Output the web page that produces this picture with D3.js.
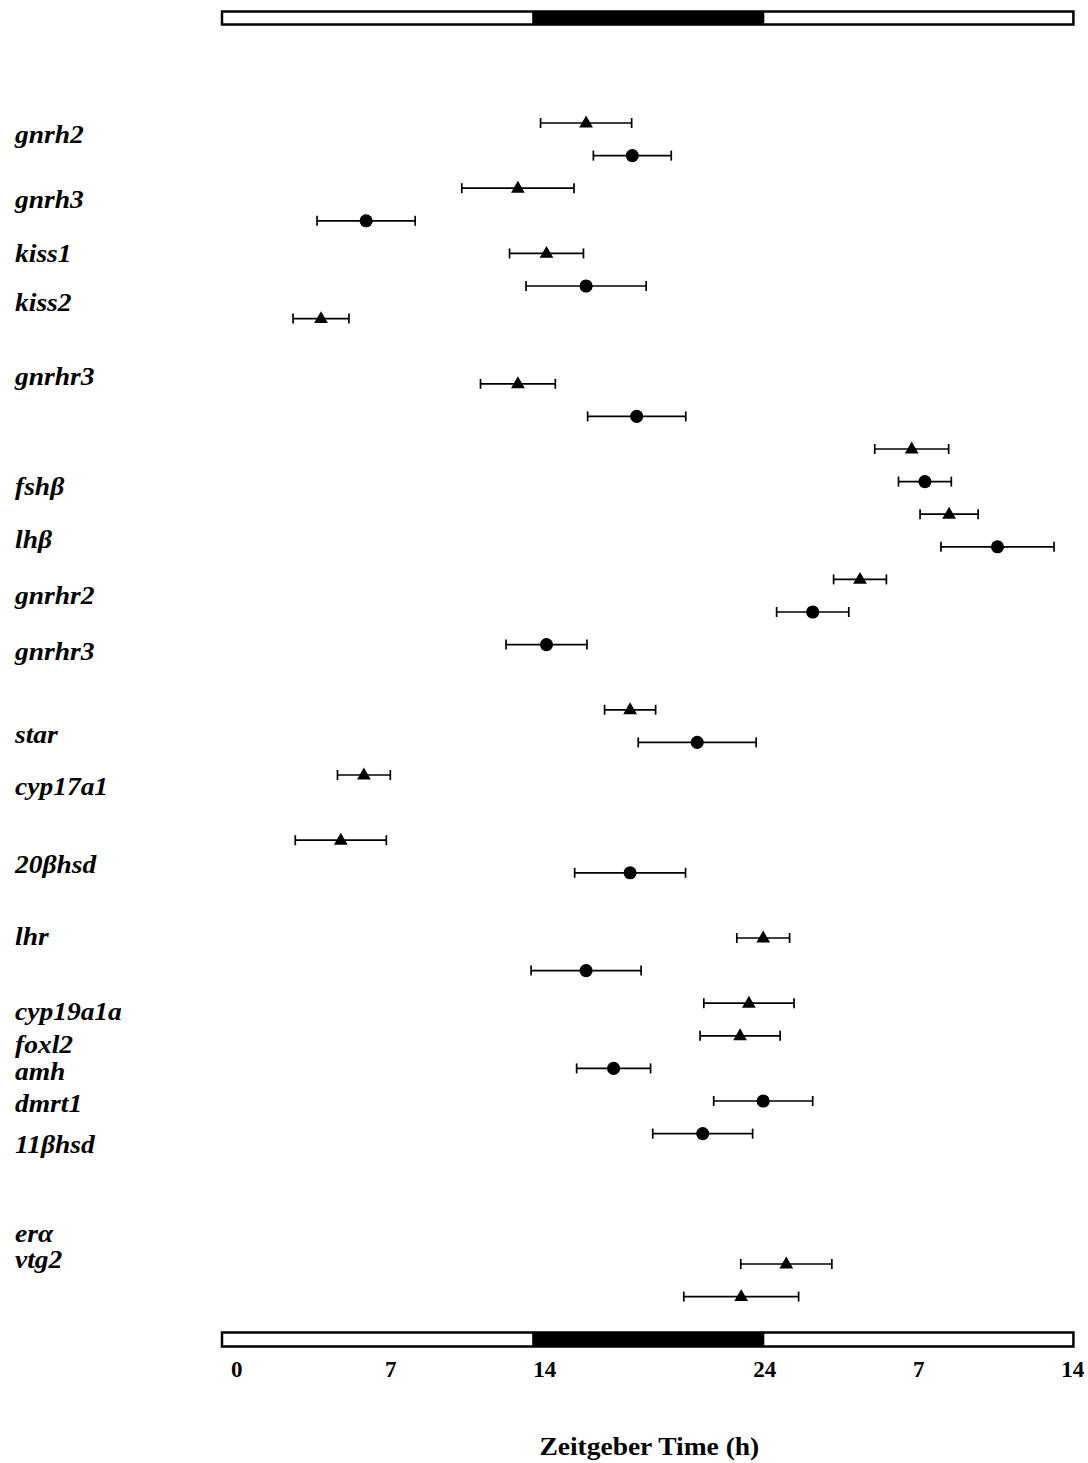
<!DOCTYPE html>
<html>
<head>
<meta charset="utf-8">
<script src="https://cdn.jsdelivr.net/npm/d3@7/dist/d3.min.js"></script>
<style>
  html, body { margin: 0; padding: 0; background: #fff; }
  svg { display: block; }
  text { font-family: "Liberation Serif", "Times New Roman", serif; fill: #000; }
</style>
</head>
<body>
<svg id="chart" width="1088" height="1463"></svg>
<script>
// Gene labels shown down the left side
const geneLabels = ["gnrh2", "gnrh3", "kiss1", "kiss2", "gnrhr3", "fshβ", "lhβ", "gnrhr2", "gnrhr3",
  "star", "cyp17a1", "20βhsd", "lhr", "cyp19a1a", "foxl2", "amh", "dmrt1", "11βhsd", "erα", "vtg2"];

// Acrophase (Zeitgeber hours) and its error, one entry per plotted point
const acrophase = [15.9, 18.0, 12.8, 5.9, 14.1, 15.9, 3.85,
  12.8, 18.2, 30.7, 31.3, 32.4, 34.6, 28.35, 26.2, 14.1,
  17.9, 20.95, 5.8, 4.75, 17.9,
  23.95, 15.9, 23.3, 22.9, 17.15, 23.95, 21.2,
  25.0, 22.95];
const acrophaseErr = [2.07, 1.77, 2.55, 2.23, 1.68, 2.73, 1.27,
  1.70, 2.23, 1.68, 1.20, 1.32, 2.57, 1.20, 1.64, 1.84,
  1.16, 2.68, 1.20, 2.07, 2.52,
  1.20, 2.50, 2.05, 1.82, 1.68, 2.25, 2.27,
  2.07, 2.61];
// Marker type per point: "tri" or "dot"
const markerType = ["tri", "dot", "tri", "dot", "tri", "dot", "tri",
  "tri", "dot", "tri", "dot", "tri", "dot", "tri", "dot", "dot",
  "tri", "dot", "tri", "tri", "dot",
  "tri", "dot", "tri", "tri", "dot", "dot", "dot",
  "tri", "tri"];
// Row slot of each point (top = 0)
const pointRow = [0, 1, 2, 3, 4, 5, 6,
  8, 9, 10, 11, 12, 13, 14, 15, 16,
  18, 19, 20, 22, 23,
  25, 26, 27, 28, 29, 30, 31,
  35, 36];

// Axis tick values (hours from start) — labels wrap at 24 h
const tickHours = [0, 7, 14, 24, 31, 38];
// Light / dark photoperiod bar, in hours
const photoLight1 = [-0.65, 13.45];
const photoDark = [13.45, 24];
const photoLight2 = [24, 38.05];

const svg = d3.select("#chart");

const x = d3.scaleLinear().domain([0, 38]).range([236.3, 1072.3]);
const y = d3.scaleLinear().domain([0, 36]).range([123, 1296.6]);

const fontFamily = '"Liberation Serif", "Times New Roman", serif';

// Photoperiod bars (top and bottom)
function photoBar(y0, h) {
  const g = svg.append("g");
  g.append("rect")
    .attr("x", x(photoLight1[0])).attr("y", y0)
    .attr("width", x(photoLight2[1]) - x(photoLight1[0])).attr("height", h)
    .attr("fill", "#fff").attr("stroke", "#000").attr("stroke-width", 2.5);
  g.append("rect")
    .attr("x", x(photoDark[0])).attr("y", y0)
    .attr("width", x(photoDark[1]) - x(photoDark[0])).attr("height", h)
    .attr("fill", "#000");
}
photoBar(11.5, 13);
photoBar(1332.5, 14);

// Gene labels: baseline positions in row units
const labelRow = [0.61, 2.61, 4.26, 5.77, 8.04, 11.41, 13.04, 14.75, 16.47,
  19.02, 20.61, 23.01, 25.21, 27.52, 28.53, 29.36, 30.34, 31.60, 34.33, 35.12];
svg.append("g").selectAll("text")
  .data(geneLabels)
  .join("text")
  .attr("transform", (d, i) => `translate(15,${y(labelRow[i])}) scale(1.1,1)`)
  .attr("font-size", 25)
  .attr("font-weight", "bold")
  .attr("font-style", "italic")
  .text(d => d);

// Points with horizontal error bars
const pts = acrophase.map((v, i) => ({ v, e: acrophaseErr[i], m: markerType[i], r: pointRow[i] }));
const pg = svg.append("g").attr("stroke", "#000").attr("stroke-width", 1.7);
const capH = 5;
pts.forEach(p => {
  const cy = y(p.r);
  const x0 = x(p.v - p.e), x1 = x(p.v + p.e);
  pg.append("line").attr("x1", x0).attr("x2", x1).attr("y1", cy).attr("y2", cy);
  pg.append("line").attr("x1", x0).attr("x2", x0).attr("y1", cy - capH).attr("y2", cy + capH);
  pg.append("line").attr("x1", x1).attr("x2", x1).attr("y1", cy - capH).attr("y2", cy + capH);
});
const sym = {
  tri: d3.symbol().type(d3.symbolTriangle).size(82),
  dot: d3.symbol().type(d3.symbolCircle).size(135)
};
svg.append("g").selectAll("path")
  .data(pts)
  .join("path")
  .attr("d", d => sym[d.m]())
  .attr("transform", d => `translate(${x(d.v)},${y(d.r) + (d.m === "tri" ? 0.5 : 0)})`)
  .attr("fill", "#000");

// Bottom axis with wrapped clock-hour labels
const axis = d3.axisBottom(x)
  .tickValues(tickHours)
  .tickSize(0)
  .tickPadding(0)
  .tickFormat(d => (d > 0 && d % 24 === 0) ? "24" : String(d % 24));
const ag = svg.append("g").attr("transform", "translate(0,1361)").call(axis);
ag.select(".domain").remove();
ag.selectAll("text")
  .attr("font-family", fontFamily)
  .attr("font-size", 23)
  .attr("font-weight", "bold")
  .attr("fill", "#000")
  .attr("dy", "0.71em");

// Axis title
svg.append("text")
  .attr("transform", `translate(${(x(0) + x(38)) / 2 - 5},1455) scale(1.1,1)`)
  .attr("text-anchor", "middle")
  .attr("font-size", 25)
  .attr("font-weight", "bold")
  .text("Zeitgeber Time (h)");
</script>
</body>
</html>
